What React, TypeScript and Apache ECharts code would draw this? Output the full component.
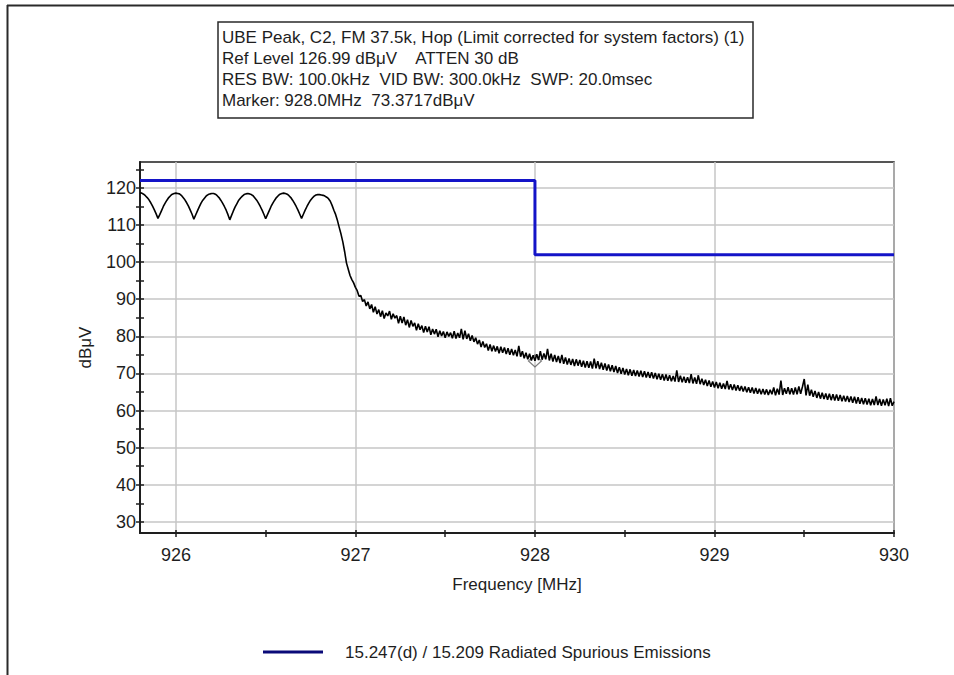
import React, { useEffect, useRef } from "react";
import * as echarts from "echarts";

// ---- data ----
const TRACE_START_MHZ = 925.8;
const TRACE_STEP_MHZ = 0.01;
// measured level (dBµV) every 0.01 MHz from 925.80 MHz to 930.00 MHz
const traceLevels: number[] = [
  // 925.80 - 925.99
  118.7, 118.6, 118.3, 117.9, 117.4, 116.8, 116.0, 115.1, 114.1, 113.0,
  111.8, 112.8, 113.9, 115.0, 115.9, 116.7, 117.4, 117.9, 118.3, 118.5,
  // 926.00 - 926.19
  118.6, 118.5, 118.4, 118.0, 117.4, 116.8, 116.0, 115.1, 114.0, 112.9,
  111.6, 112.7, 113.8, 114.9, 115.9, 116.7, 117.3, 117.9, 118.2, 118.4,
  // 926.20 - 926.39
  118.5, 118.5, 118.3, 117.9, 117.4, 116.7, 115.9, 115.0, 114.0, 112.8,
  111.4, 112.6, 113.8, 114.9, 115.8, 116.7, 117.3, 117.8, 118.2, 118.4,
  // 926.40 - 926.59
  118.5, 118.4, 118.2, 117.9, 117.3, 116.7, 115.9, 115.0, 114.0, 112.9,
  111.7, 112.8, 113.9, 115.0, 115.9, 116.7, 117.4, 117.9, 118.3, 118.5,
  // 926.60 - 926.79
  118.6, 118.5, 118.3, 117.9, 117.4, 116.7, 115.9, 115.0, 114.0, 112.9,
  111.8, 112.9, 114.0, 115.0, 115.9, 116.7, 117.3, 117.8, 118.1, 118.2,
  // 926.80 - 926.99
  118.2, 118.1, 118.0, 117.8, 117.5, 117.1, 116.4, 115.3, 114.0, 112.8,
  111.2, 109.3, 107.5, 105.4, 102.8, 99.8, 98.1, 96.4, 95.3, 94.4,
  // 927.00 - 927.09
  93.2, 92.3, 90.8, 91.0, 89.4, 89.9, 88.2, 89.3, 87.4, 88.6,
  // 927.10 - 927.19
  86.5, 88.0, 86.0, 87.2, 85.3, 86.9, 84.8, 86.3, 85.5, 86.8,
  // 927.20 - 927.29
  84.6, 86.1, 84.9, 85.6, 83.5, 85.4, 83.6, 85.2, 83.0, 84.5,
  // 927.30 - 927.39
  82.4, 84.3, 82.7, 83.6, 81.6, 83.4, 81.8, 82.9, 81.0, 82.7,
  // 927.40 - 927.49
  81.2, 82.6, 80.4, 82.0, 80.6, 81.9, 79.9, 81.5, 80.1, 81.3,
  // 927.50 - 927.59
  79.6, 81.2, 80.0, 81.0, 79.5, 81.4, 79.4, 80.9, 79.6, 82.0,
  // 927.60 - 927.69
  79.2, 81.5, 79.3, 80.7, 78.8, 80.2, 78.5, 79.6, 77.9, 79.0,
  // 927.70 - 927.79
  77.1, 78.6, 77.0, 78.0, 76.2, 77.8, 76.0, 77.5, 75.9, 77.3,
  // 927.80 - 927.89
  75.4, 77.2, 75.6, 77.0, 75.2, 76.8, 75.0, 76.6, 74.9, 76.3,
  // 927.90 - 927.99
  74.6, 77.4, 74.5, 76.0, 74.1, 75.6, 73.8, 75.3, 73.5, 74.9,
  // 928.00 - 928.09
  73.4, 75.2, 73.6, 76.0, 73.7, 75.4, 73.8, 76.6, 73.5, 75.3,
  // 928.10 - 928.19
  73.2, 75.0, 73.1, 74.7, 72.8, 75.0, 72.6, 74.3, 72.4, 74.0,
  // 928.20 - 928.29
  72.3, 73.9, 72.0, 73.8, 72.1, 73.6, 71.8, 73.4, 71.6, 73.3,
  // 928.30 - 928.39
  71.5, 73.2, 71.3, 74.0, 71.4, 73.3, 71.2, 72.9, 71.0, 72.7,
  // 928.40 - 928.49
  70.8, 72.4, 70.6, 72.2, 70.4, 72.0, 70.1, 71.7, 69.9, 71.5,
  // 928.50 - 928.59
  69.7, 71.2, 69.5, 71.1, 69.4, 70.9, 69.3, 70.8, 69.2, 70.7,
  // 928.60 - 928.69
  69.0, 70.6, 68.9, 70.4, 68.8, 70.3, 68.6, 70.1, 68.4, 69.9,
  // 928.70 - 928.79
  68.3, 69.8, 68.1, 69.7, 68.0, 69.5, 67.9, 69.3, 67.8, 70.8,
  // 928.80 - 928.89
  67.7, 69.4, 67.6, 69.1, 67.5, 69.0, 67.4, 69.8, 67.3, 68.9,
  // 928.90 - 928.99
  67.2, 69.5, 67.1, 68.6, 66.9, 68.3, 66.6, 68.1, 66.4, 67.8,
  // 929.00 - 929.09
  66.2, 67.7, 66.0, 67.5, 65.9, 67.3, 65.8, 68.0, 65.7, 67.1,
  // 929.10 - 929.19
  65.5, 67.0, 65.4, 66.8, 65.3, 66.6, 65.1, 66.5, 64.9, 66.3,
  // 929.20 - 929.29
  64.8, 66.2, 64.6, 66.1, 64.5, 65.9, 64.4, 65.8, 64.3, 65.7,
  // 929.30 - 929.39
  64.2, 65.6, 64.4, 66.2, 64.1, 65.9, 64.3, 68.1, 64.2, 66.0,
  // 929.40 - 929.49
  64.5, 66.3, 64.4, 66.0, 64.3, 66.2, 64.4, 66.5, 64.5, 66.4,
  // 929.50 - 929.59
  68.5, 64.1, 67.0, 64.0, 65.6, 63.7, 65.3, 63.4, 65.0, 63.2,
  // 929.60 - 929.69
  64.8, 63.1, 64.6, 62.9, 64.5, 62.8, 64.4, 62.7, 64.3, 62.6,
  // 929.70 - 929.79
  64.2, 62.5, 64.0, 62.4, 63.9, 62.3, 63.8, 62.1, 63.7, 61.9,
  // 929.80 - 929.89
  63.6, 61.8, 63.4, 61.7, 63.3, 61.6, 63.2, 61.4, 63.1, 61.5,
  // 929.90 - 930.00
  63.8, 61.5, 63.1, 61.3, 63.0, 61.4, 63.2, 61.2, 63.3, 61.3,
  62.4,
];

const limitFreqs = [925.8, 928.0, 928.0, 930.0];
const limitLevels = [122, 122, 102, 102];

const markerFreq = 928.0;
const markerLevel = 73.3717;

const xMin = 925.8;
const xMax = 930;
const yMin = 26.99;
const yMax = 126.99;
const xLabelValues = [926, 927, 928, 929, 930];
const xTickValues = [926, 926.5, 927, 927.5, 928, 928.5, 929, 929.5, 930];
const yLabelValues = [30, 40, 50, 60, 70, 80, 90, 100, 110, 120];
const yTickValues = [30, 35, 40, 45, 50, 55, 60, 65, 70, 75, 80, 85, 90, 95, 100, 105, 110, 115, 120, 125];

const headerLines = [
  "UBE Peak, C2, FM 37.5k, Hop (Limit corrected for system factors) (1)",
  "Ref Level 126.99 dB\u03bcV    ATTEN 30 dB",
  "RES BW: 100.0kHz  VID BW: 300.0kHz  SWP: 20.0msec",
  "Marker: 928.0MHz  73.3717dB\u03bcV",
];
const limitName = "15.247(d) / 15.209 Radiated Spurious Emissions";
const xName = "Frequency [MHz]";
const yName = "dB\u03bcV";

const FONT = "'Liberation Sans', Arial, sans-serif";
const INK = "#1e1e1e";

export default function App() {
  const ref = useRef<HTMLDivElement>(null);

  useEffect(() => {
    if (!ref.current) return;
    const chart = echarts.init(ref.current, null, { renderer: "svg" });

    const traceData = traceLevels.map((v, i) => [
      +(TRACE_START_MHZ + i * TRACE_STEP_MHZ).toFixed(2),
      v,
    ]);
    const limitData = limitFreqs.map((f, i) => [f, limitLevels[i]]);

    const tickLine = { color: INK, width: 1.5 };

    const baseX = {
      type: "value" as const,
      min: xMin,
      max: xMax,
      position: "bottom" as const,
      gridIndex: 0,
    };
    const baseY = {
      type: "value" as const,
      min: yMin,
      max: yMax,
      position: "left" as const,
      gridIndex: 0,
    };

    chart.setOption({
      animation: false,
      backgroundColor: "#ffffff",
      textStyle: { fontFamily: FONT },
      grid: {
        left: 140,
        top: 162,
        right: 60,
        bottom: 142,
        show: true,
        borderColor: INK,
        borderWidth: 1.5,
        backgroundColor: "transparent",
        containLabel: false,
      },
      xAxis: [
        {
          ...baseX,
          name: xName,
          nameLocation: "middle",
          nameGap: 43,
          nameTextStyle: { color: INK, fontSize: 17, fontFamily: FONT },
          axisLine: { show: true, lineStyle: { color: INK, width: 2 } },
          axisTick: { show: false, customValues: xLabelValues },
          axisLabel: {
            customValues: xLabelValues,
            color: INK,
            fontSize: 18,
            fontFamily: FONT,
            margin: 13,
          },
          splitLine: { show: true, lineStyle: { color: "#c6c6c6", width: 1.5 } },
        },
        {
          ...baseX,
          axisLine: { show: false },
          axisTick: { show: true, customValues: xTickValues, length: 4, lineStyle: tickLine },
          axisLabel: { show: false },
          splitLine: { show: false },
        },
        {
          ...baseX,
          axisLine: { show: false },
          axisTick: { show: true, inside: true, customValues: xTickValues, length: 3, lineStyle: tickLine },
          axisLabel: { show: false },
          splitLine: { show: false },
        },
      ],
      yAxis: [
        {
          ...baseY,
          name: yName,
          nameLocation: "middle",
          nameGap: 46,
          nameRotate: 90,
          nameTextStyle: { color: INK, fontSize: 17, fontFamily: FONT },
          axisLine: { show: true, lineStyle: { color: INK, width: 2 } },
          axisTick: { show: false, customValues: yLabelValues },
          axisLabel: {
            customValues: yLabelValues,
            color: INK,
            fontSize: 18,
            fontFamily: FONT,
            margin: 4,
          },
          splitLine: { show: true, lineStyle: { color: "#c6c6c6", width: 1.5 } },
        },
        {
          ...baseY,
          axisLine: { show: false },
          axisTick: { show: true, customValues: yTickValues, length: 4, lineStyle: tickLine },
          axisLabel: { show: false },
          splitLine: { show: false },
        },
        {
          ...baseY,
          axisLine: { show: false },
          axisTick: { show: true, inside: true, customValues: yTickValues, length: 4, lineStyle: tickLine },
          axisLabel: { show: false },
          splitLine: { show: false },
        },
      ],
      series: [
        {
          name: "Trace",
          type: "line",
          xAxisIndex: 0,
          yAxisIndex: 0,
          data: traceData,
          symbol: "none",
          showSymbol: false,
          lineStyle: { color: "#000000", width: 1.6 },
          z: 3,
        },
        {
          name: limitName,
          type: "line",
          xAxisIndex: 0,
          yAxisIndex: 0,
          data: limitData,
          symbol: "none",
          showSymbol: false,
          lineStyle: { color: "#1414c8", width: 3 },
          z: 4,
        },
        {
          name: "Marker",
          type: "scatter",
          xAxisIndex: 0,
          yAxisIndex: 0,
          data: [[markerFreq, markerLevel]],
          symbol: "diamond",
          symbolSize: [13, 12],
          itemStyle: { color: "rgba(0,0,0,0)", borderColor: "#606060", borderWidth: 1.2 },
          z: 2,
        },
      ],
      graphic: [
        // window frame (top and left edges)
        {
          type: "line",
          shape: { x1: 7, y1: 5.5, x2: 954, y2: 5.5 },
          style: { stroke: "#2a2a2a", lineWidth: 2 },
          silent: true,
        },
        {
          type: "line",
          shape: { x1: 7.5, y1: 5, x2: 7.5, y2: 675 },
          style: { stroke: "#2a2a2a", lineWidth: 2 },
          silent: true,
        },
        // header box
        {
          type: "rect",
          shape: { x: 218, y: 22, width: 535, height: 96 },
          style: { fill: "#ffffff", stroke: "#2a2a2a", lineWidth: 1.5 },
          silent: true,
        },
        ...headerLines.map((t, i) => ({
          type: "text",
          x: 222,
          y: 37 + i * 21.3,
          style: {
            text: t,
            fill: INK,
            font: `17px ${FONT}`,
            textVerticalAlign: "middle",
            verticalAlign: "middle",
          },
          silent: true,
        })),
        // legend
        {
          type: "line",
          shape: { x1: 263, y1: 652, x2: 323, y2: 652 },
          style: { stroke: "#0a0a78", lineWidth: 3 },
          silent: true,
        },
        {
          type: "text",
          x: 345,
          y: 652,
          style: {
            text: limitName,
            fill: INK,
            font: `17px ${FONT}`,
            textVerticalAlign: "middle",
            verticalAlign: "middle",
          },
          silent: true,
        },
      ],
    });

    return () => {
      chart.dispose();
    };
  }, []);

  return (
    <div
      ref={ref}
      style={{
        position: "fixed",
        left: 0,
        top: 0,
        width: 954,
        height: 675,
        background: "#ffffff",
      }}
    />
  );
}
